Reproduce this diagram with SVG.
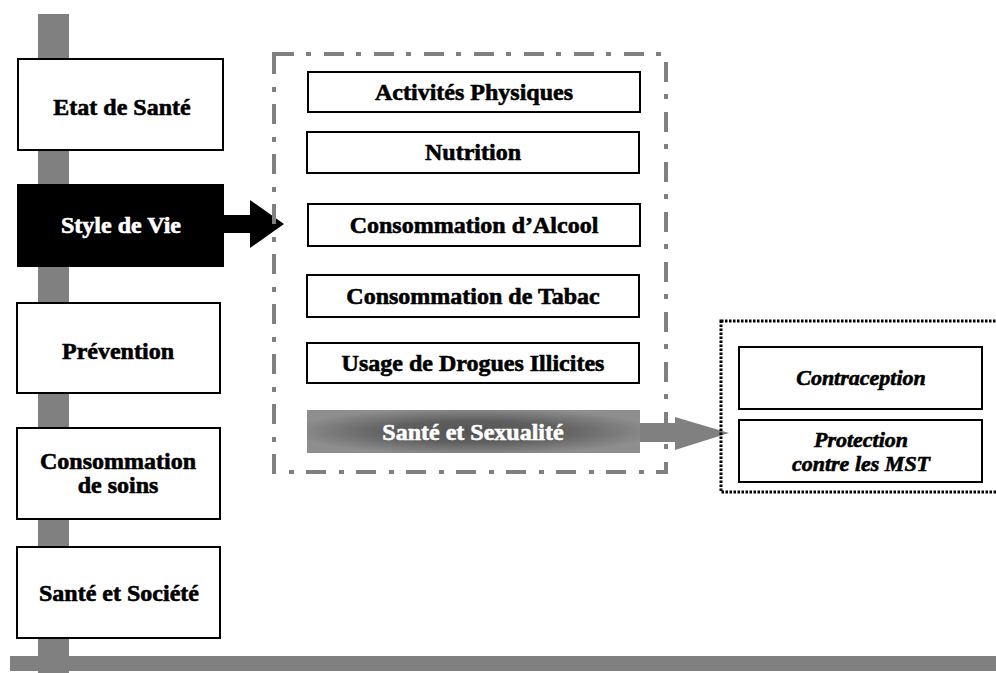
<svg xmlns="http://www.w3.org/2000/svg" width="996" height="673" viewBox="0 0 996 673">
<style>
.bar{fill:#808080}
.box{fill:#fff;stroke:#000;stroke-width:2}
.t{font-family:'Liberation Serif','DejaVu Serif',serif;font-weight:700;font-size:24px;text-anchor:middle;fill:#000;stroke:#000;stroke-width:0.6}
.ti{font-family:'Liberation Serif','DejaVu Serif',serif;font-weight:700;font-style:italic;font-size:22px;text-anchor:middle;fill:#000;stroke:#000;stroke-width:0.6}
.w{fill:#fff;stroke:#fff}
</style>
<defs>
<radialGradient id="g" cx="0.5" cy="0.5" r="0.55">
<stop offset="0" stop-color="#555"/>
<stop offset="0.45" stop-color="#5e5e5e"/>
<stop offset="1" stop-color="#8e8e8e"/>
</radialGradient>
</defs>
<g id="axes">
<rect class="bar" x="38" y="14" width="31" height="659"/>
<rect class="bar" x="10" y="656" width="986" height="15"/>
</g>
<g id="connectors">
<polygon points="223,215 250,215 250,200 284,224 250,248 250,233 223,233" fill="#000"/>
</g>
<g id="group-style">
<rect x="274" y="54" width="392" height="418" fill="none" stroke="#808080" stroke-width="4" stroke-dasharray="20 12 5 13"/>
</g>
<g id="connectors2">
<polygon points="638,423 675,423 675,417 729,433 675,450 675,442 638,442" fill="#808080"/>
</g>
<g id="n-etat"><rect class="box" x="18" y="59" width="205" height="91"/><text class="t" x="122" y="115">Etat de Santé</text></g>
<g id="n-style"><rect x="18" y="185" width="205" height="81" fill="#000" stroke="#000" stroke-width="2"/><text class="t w" x="121" y="233">Style de Vie</text></g>
<g id="n-prev"><rect class="box" x="17" y="303" width="203" height="90"/><text class="t" x="118" y="359">Prévention</text></g>
<g id="n-soins"><rect class="box" x="17" y="428" width="203" height="91"/><text class="t" x="118" y="469">Consommation</text><text class="t" x="118" y="493">de soins</text></g>
<g id="n-societe"><rect class="box" x="17" y="547" width="203" height="91"/><text class="t" x="119" y="601">Santé et Société</text></g>
<g id="n-activ"><rect class="box" x="308" y="72" width="332" height="40"/><text class="t" x="474" y="100">Activités Physiques</text></g>
<g id="n-nutri"><rect class="box" x="307" y="132" width="332" height="41"/><text class="t" x="473" y="160">Nutrition</text></g>
<g id="n-alcool"><rect class="box" x="308" y="204" width="332" height="42"/><text class="t" x="474" y="233">Consommation d’Alcool</text></g>
<g id="n-tabac"><rect class="box" x="307" y="275" width="332" height="42"/><text class="t" x="473" y="304">Consommation de Tabac</text></g>
<g id="n-drogues"><rect class="box" x="307" y="343" width="332" height="40"/><text class="t" x="473" y="371">Usage de Drogues Illicites</text></g>
<g id="n-sexu"><rect x="307" y="410" width="333" height="43" fill="url(#g)"/><text class="t w" x="473" y="440">Santé et Sexualité</text></g>
<g id="group-sexu">
<rect x="721" y="321" width="280" height="171" fill="none" stroke="#000" stroke-width="3" stroke-dasharray="2.5 1.5"/>
</g>
<g id="n-contra"><rect class="box" x="739" y="347" width="243" height="62"/><text class="ti" x="861" y="385">Contraception</text></g>
<g id="n-protect"><rect class="box" x="739" y="420" width="243" height="62"/><text class="ti" x="861" y="447">Protection</text><text class="ti" x="861" y="471">contre les MST</text></g>
</svg>
